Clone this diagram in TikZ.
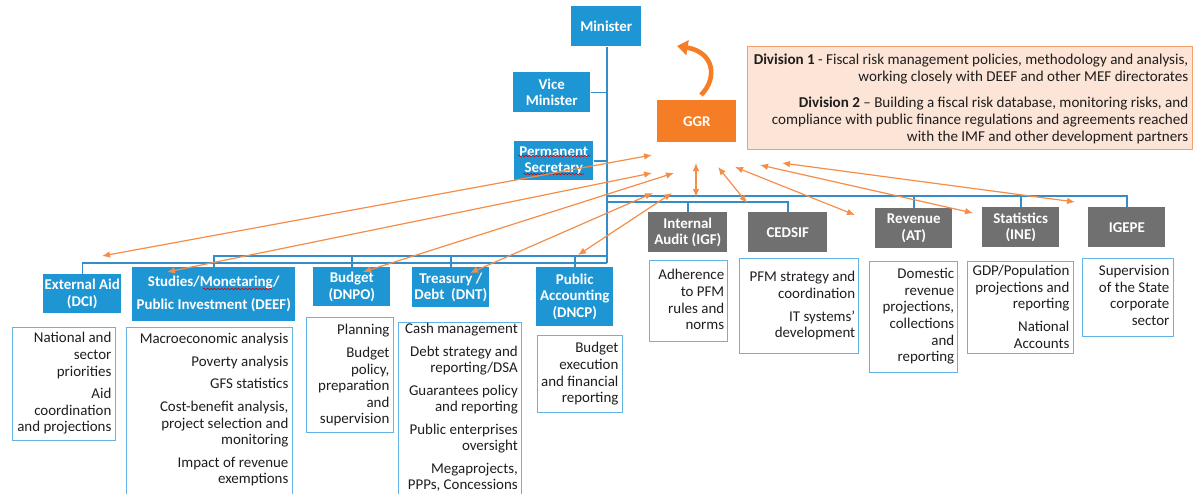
\documentclass[tikz,border=0pt]{standalone}
\usepackage{fontspec}
\setmainfont{Carlito}
\usetikzlibrary{arrows.meta,decorations.pathmorphing}
\definecolor{hblue}{RGB}{31,150,212}
\definecolor{hgrey}{RGB}{112,112,112}
\definecolor{ggrorange}{RGB}{245,125,38}
\definecolor{arrorange}{RGB}{246,140,70}
\definecolor{lineblue}{RGB}{52,140,200}
\definecolor{descblue}{RGB}{100,180,230}
\definecolor{divfill}{RGB}{252,228,214}
\definecolor{divdraw}{RGB}{243,160,110}
\definecolor{txt}{RGB}{30,30,30}
\begin{document}
\begin{tikzpicture}[x=0.75pt,y=-0.75pt,
  hdr/.style={fill=hblue,text=white,font=\bfseries\fontsize{11.2}{12.4}\selectfont,align=center,inner sep=0pt,anchor=north west},
  gry/.style={hdr,fill=hgrey},
  ggrbox/.style={hdr,fill=ggrorange},
  descbox/.style={draw=descblue,line width=1.1pt,fill=white,inner sep=0pt,anchor=north west},
  desctext/.style={text=txt,font=\fontsize{11.2}{12.4}\selectfont,align=right,inner sep=0pt,anchor=north east},
  bus/.style={draw=lineblue,line width=1.1pt},
  link/.style={draw=arrorange,line width=0.9pt,{Latex[length=6pt,width=5pt]}-{Latex[length=6pt,width=5pt]}},
  curv/.style={draw=ggrorange,line width=3.5pt,-{Triangle[length=8pt,width=11pt]}},
  squig/.style={draw=red!85!black,line width=0.45pt,decorate,decoration={snake,amplitude=0.6pt,segment length=2.6pt}}
]
\useasboundingbox (0,0) rectangle (1193,493);

% top hierarchy
\node[hdr,minimum width=52.5pt,minimum height=30pt] (min) at (571,6) {Minister};
\node[hdr,minimum width=57.75pt,minimum height=30pt] (vm) at (513,72) {Vice\\Minister};
\node[hdr,minimum width=59.25pt,minimum height=29.25pt] (ps) at (514,141) {Permanent\\Secretary};
\node[ggrbox,minimum width=59.25pt,minimum height=31.5pt] (ggr) at (657,100) {GGR};

\node[draw=divdraw,line width=0.9pt,fill=divfill,minimum width=333.75pt,minimum height=77.25pt,inner sep=0pt,anchor=north west] (div) at (747,46) {};
\node[text=txt,font=\fontsize{11.3}{12.75}\selectfont,align=right,inner sep=0pt,anchor=north east] (divt) at ([xshift=-3.5pt,yshift=-6pt]div.north east)
 {\textbf{Division 1} - Fiscal risk management policies, methodology and analysis,\\
  working closely with DEEF and other MEF directorates\\[6.5pt]
  \textbf{Division 2} -- Building a fiscal risk database, monitoring risks, and\\
  compliance with public finance regulations and agreements reached\\
  with the IMF and other development partners};

% left headers
\node[hdr,minimum width=58.5pt,minimum height=29.25pt] (dci) at (43,274) {External Aid\\(DCI)};
\node[hdr,minimum width=122.25pt,minimum height=40.5pt] (deef) at (132,267) {Studies/Monetaring/\\[5pt]Public Investment (DEEF)};
\node[hdr,minimum width=57.75pt,minimum height=29.25pt] (dnpo) at (313,267) {Budget\\(DNPO)};
\node[hdr,minimum width=57.75pt,minimum height=30pt] (dnt) at (412,267) {Treasury /\\Debt\ \ (DNT)};
\node[hdr,minimum width=57.75pt,minimum height=44.25pt] (dncp) at (536,267) {Public\\Accounting\\(DNCP)};
% right headers
\node[gry,minimum width=59.25pt,minimum height=30pt] (igf) at (648,212) {Internal\\Audit (IGF)};
\node[gry,minimum width=59.25pt,minimum height=30pt] (cedsif) at (748,212) {CEDSIF};
\node[gry,minimum width=57.75pt,minimum height=30pt] (at) at (875,208) {Revenue\\(AT)};
\node[gry,minimum width=57.75pt,minimum height=30pt] (ine) at (982,207) {Statistics\\(INE)};
\node[gry,minimum width=57.75pt,minimum height=30pt] (igepe) at (1088,207) {IGEPE};

% description boxes
\node[descbox,minimum width=77.25pt,minimum height=84.75pt] (dcid) at (12,327) {};
\node[desctext] (dcit) at ([xshift=-3.6pt,yshift=-4pt]dcid.north east) {National and\\sector\\priorities\\[4.5pt]Aid\\coordination\\and projections};

\node[descbox,minimum width=124.5pt,minimum height=126pt] (deefd) at (126,327) {};
\node[desctext] (deeft) at ([xshift=-3.6pt,yshift=-4.7pt]deefd.north east) {Macroeconomic analysis\\[4.5pt]Poverty analysis\\[4.5pt]GFS statistics\\[4.5pt]Cost-benefit analysis,\\project selection and\\monitoring\\[4.5pt]Impact of revenue\\exemptions};

\node[descbox,minimum width=65.25pt,minimum height=86.25pt] (dnpod) at (306,317) {};
\node[desctext] (dnpot) at ([xshift=-3.6pt,yshift=-5.5pt]dnpod.north east) {Planning\\[4.5pt]Budget\\policy,\\preparation\\and\\supervision};

\node[descbox,minimum width=92.25pt,minimum height=130pt] (dntd) at (398,322) {};
\node[desctext] (dntt) at ([xshift=-3.3pt,yshift=-0.8pt]dntd.north east) {Cash management\\[4.5pt]Debt strategy and\\reporting/DSA\\[4.5pt]Guarantees policy\\and reporting\\[4.5pt]Public enterprises\\oversight\\[4.5pt]Megaprojects,\\PPPs, Concessions};

\node[descbox,minimum width=63.75pt,minimum height=57.75pt] (dncpd) at (537,335) {};
\node[desctext] (dncpt) at ([xshift=-3.6pt,yshift=-5.5pt]dncpd.north east) {Budget\\execution\\and financial\\reporting};

\node[descbox,minimum width=58.5pt,minimum height=60.75pt] (igfd) at (649,260) {};
\node[desctext] (igft) at ([xshift=-3pt,yshift=-7pt]igfd.north east) {Adherence\\to PFM\\rules and\\norms};

\node[descbox,minimum width=89.25pt,minimum height=71.25pt] (cedsifd) at (739,258) {};
\node[desctext] (cedsift) at ([xshift=-3pt,yshift=-10pt]cedsifd.north east) {PFM strategy and\\coordination\\[4.5pt]IT systems’\\development};

\node[descbox,minimum width=66pt,minimum height=83.25pt] (atd) at (869,261) {};
\node[desctext] (att) at ([xshift=-3pt,yshift=-5.5pt]atd.north east) {Domestic\\revenue\\projections,\\collections\\and\\reporting};

\node[descbox,minimum width=79.5pt,minimum height=69pt] (ined) at (967,261) {};
\node[desctext] (inet) at ([xshift=-3.6pt,yshift=-3.2pt]ined.north east) {GDP/Population\\projections and\\reporting\\[4.5pt]National\\Accounts};

\node[descbox,minimum width=68.25pt,minimum height=58.5pt] (igeped) at (1082,258) {};
\node[desctext] (igepet) at ([xshift=-3.6pt,yshift=-5.5pt]igeped.north east) {Supervision\\of the State\\corporate\\sector};

% blue organisational lines
\coordinate (spB) at (607,263);
\coordinate (rb1) at (607,196);
\coordinate (rb2) at (607,202);
\coordinate (lb1) at (607,256);
\draw[bus] (min.south -| spB) -- (spB);
\draw[bus] (vm.east) -- (vm.east -| spB);
\draw[bus] (ps.east) -- (ps.east -| spB);
\draw[bus] (rb1) -- (rb1 -| igepe.north) -- (igepe.north);
\draw[bus] (rb1 -| at.north) -- (at.north);
\draw[bus] (rb1 -| ine.north) -- (ine.north);
\draw[bus] (rb2) -- (rb2 -| cedsif.north) -- (cedsif.north);
\draw[bus] (rb2 -| igf.north) -- (igf.north);
\draw[bus] (lb1) -- (lb1 -| deef.north) -- (deef.north);
\draw[bus] (lb1 -| dnpo.north) -- (dnpo.north);
\draw[bus] (lb1 -| dnt.north) -- (dnt.north);
\draw[bus] (lb1 -| dncp.north) -- (dncp.north);
\draw[bus] (spB) -- (spB -| dci.north) -- (dci.north);

% spell-check squiggles
\draw[squig] (203,289) -- (272,289);
\draw[squig] (518,156) -- (590,156);
\draw[squig] (523,174) -- (584,174);

% curved arrow above GGR
\coordinate (c0) at (701,95);
\coordinate (c1) at (677,46);
\draw[curv] (c0) .. controls (718,78) and (714,52) .. (c1);

% orange links
\coordinate (h1) at (652,155);  \coordinate (t1) at (102,256);
\coordinate (h2) at (652,173);  \coordinate (t2) at (167,272);
\coordinate (h3) at (674,173);  \coordinate (t3) at (363,272);
\coordinate (h4) at (653,193);  \coordinate (t4) at (470,273);
\coordinate (h5) at (672,193);  \coordinate (t5) at (578,255);
\coordinate (h6) at (696,163);  \coordinate (t6) at (696,197);
\coordinate (h7) at (718,167);  \coordinate (t7) at (747,203);
\coordinate (h8) at (735,167);  \coordinate (t8) at (855,215);
\coordinate (h9) at (760,165);  \coordinate (t9) at (973,213);
\coordinate (h10) at (782,163); \coordinate (t10) at (1075,202);
\foreach \i in {1,...,10} {\draw[link] (h\i) -- (t\i);}
\end{tikzpicture}
\end{document}
